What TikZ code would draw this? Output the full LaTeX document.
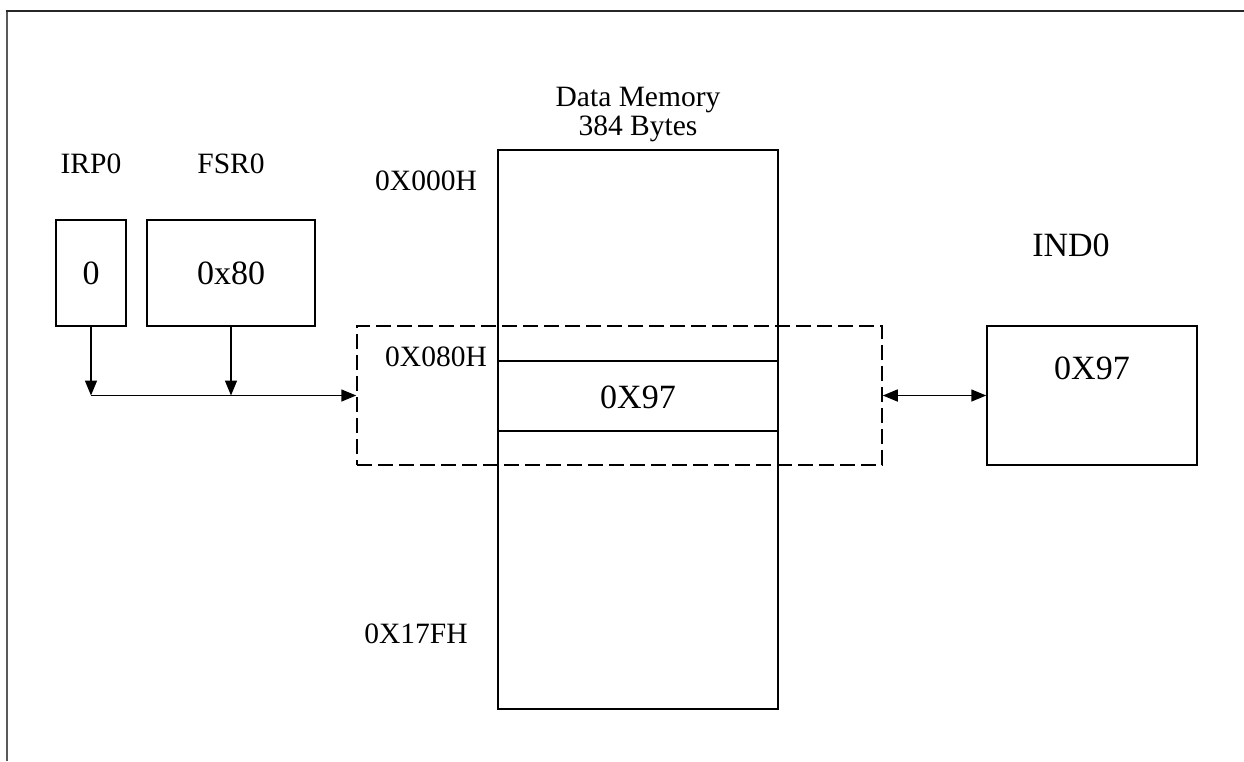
\documentclass[tikz,border=0pt]{standalone}
\usepackage{fontspec}
\setmainfont{Liberation Serif}
\usetikzlibrary{arrows.meta}
\begin{document}
\begin{tikzpicture}[x=1pt,y=-1pt,
  lbl/.style={font=\fontsize{29.5}{32}\selectfont, inner sep=0pt},
  big/.style={font=\fontsize{34}{37}\selectfont, inner sep=0pt},
  regbox/.style={draw, line width=1.5pt, inner sep=0pt},
  tip/.style={},
  link/.style={line width=1.5pt, -{Triangle[length=15pt,width=12pt]}},
  bilink/.style={line width=1.5pt, {Triangle[length=15pt,width=12pt]}-{Triangle[length=15pt,width=12pt]}}
]
\useasboundingbox (0,0) rectangle (1244,761);
\fill[white] (0,0) rectangle (1244,761);

% frame lines
\draw[line width=2pt, black!65] (6.5,761) -- (6.5,11);
\draw[line width=2.2pt, black!85] (5.5,11) -- (1244,11);

% registers
\node[regbox, minimum width=70pt, minimum height=106pt] (irp) at (91,273) {};
\node[big] (irpval) at (irp.center) {0};
\node[lbl] (irplbl) at (91,164) {IRP0};
\node[regbox, minimum width=168pt, minimum height=106pt] (fsr) at (231,273) {};
\node[big] (fsrval) at (fsr.center) {0x80};
\node[lbl] (fsrlbl) at (231,164) {FSR0};

% data memory
\node[lbl] (memt1) at (638,100) {Data Memory};
\node[lbl] (memt2) at (638,129) {384 Bytes};
\node[regbox, minimum width=280pt, minimum height=559pt] (mem) at (638,429.5) {};
\node[regbox, minimum width=280pt, minimum height=70pt] (cell) at (638,396) {};
\node[big] (cellval) at (638,397) {0X97};
\node[lbl] (a000) at (426,181) {0X000H};
\node[lbl] (a080) at (436,357) {0X080H};
\node[lbl] (a17f) at (416,634) {0X17FH};

% indirect access window
\node[draw, line width=1.5pt, dash pattern=on 15pt off 6pt, inner sep=0pt,
      minimum width=525pt, minimum height=139pt] (win) at (619.5,395.5) {};

% IND0 register
\node[big] (indlbl) at (1071,245) {IND0};
\node[regbox, minimum width=210pt, minimum height=139pt] (ind) at (1092,395.5) {};
\node[big] (indval) at (1092,368) {0X97};

% address path
\coordinate (j1) at (91,395.5);
\draw[link] (irp.south) -- (j1);
\draw[link] (fsr.south) -- (fsr.south |- j1);
\draw[link] (j1) -- (win.west);
\draw[bilink] (win.east) -- (ind.west);
\end{tikzpicture}
\end{document}
